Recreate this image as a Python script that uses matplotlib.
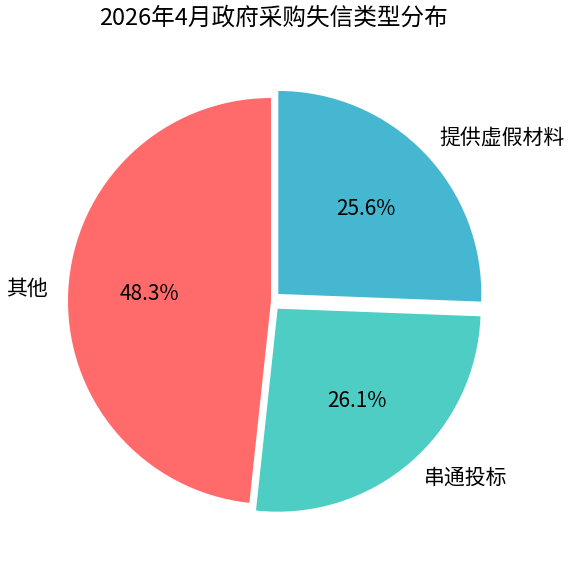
import matplotlib
matplotlib.use('Agg')
import matplotlib.pyplot as plt

plt.rcParams['font.family'] = ['Noto Sans CJK SC', 'DejaVu Sans']

labels = ['其他', '串通投标', '提供虚假材料']
values = [48.3, 26.1, 25.6]
colors = ['#FF6B6B', '#4ECDC4', '#45B7D1']
explode = [0, 0.05, 0.05]

W, H = 570, 566
fig = plt.figure(figsize=(W / 100, H / 100), dpi=100)

# pie centre at (271, 301) px from top-left, radius ~203 px
r_px = 203
cx, cy = 271, H - 301
lim = 1.2
half = lim * r_px
ax = fig.add_axes([(cx - half) / W, (cy - half) / H, 2 * half / W, 2 * half / H])
ax.pie(values, labels=labels, colors=colors, explode=explode, autopct='%1.1f%%',
       startangle=90, counterclock=True, textprops={'fontsize': 15})
ax.set_xlim(-lim, lim)
ax.set_ylim(-lim, lim)
ax.set_aspect('equal')

fig.text(273.5 / W, 1 - 18 / H, '2026年4月政府采购失信类型分布', fontsize=17,
         ha='center', va='center')
plt.savefig('out.png')
